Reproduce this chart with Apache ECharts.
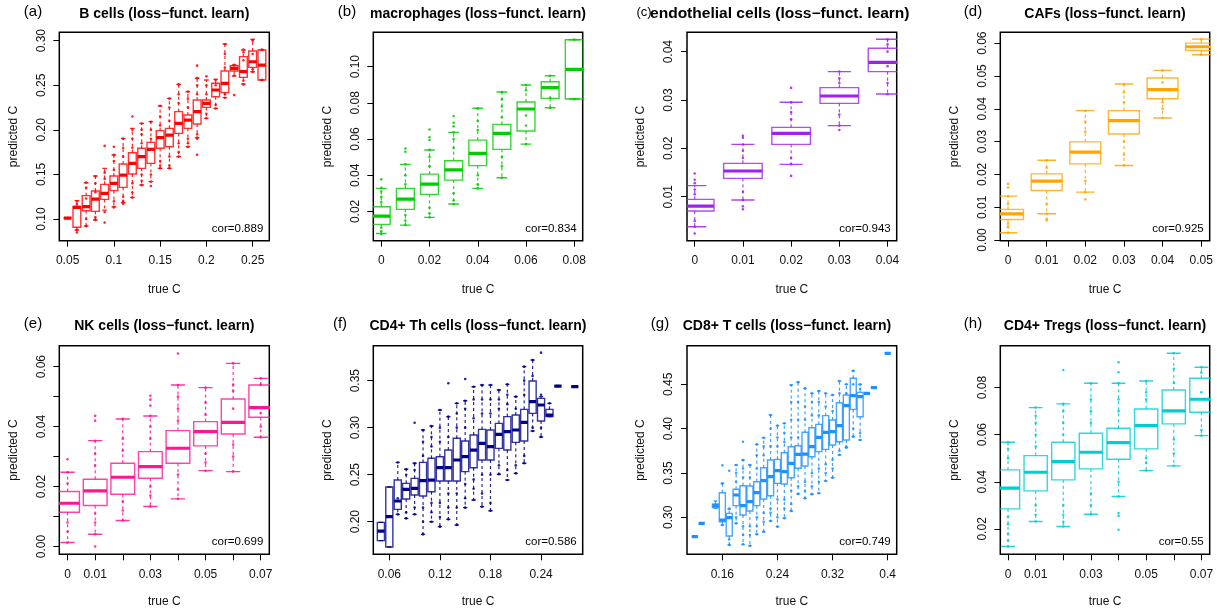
<!DOCTYPE html>
<html><head><meta charset="utf-8">
<script src="https://cdn.jsdelivr.net/npm/echarts@6/dist/echarts.min.js"></script>
<style>html,body{margin:0;padding:0;background:#fff}#c{width:1217px;height:613px}</style>
</head><body><div id="c"></div>
<script>
// ---------- DATA ----------
// stats per box: [lower whisker, q1, median, q3, upper whisker]
const aX = [0.05,0.06,0.07,0.08,0.09,0.10,0.11,0.12,0.13,0.14,0.15,0.16,0.17,0.18,0.19,0.20,0.21,0.22,0.23,0.24,0.25,0.26];
const aStats = [[0.101,0.101,0.101,0.101,0.101],[0.0877,0.0907,0.113,0.114,0.1206],[0.0922,0.1093,0.1138,0.1262,0.1407],[0.0989,0.1086,0.1224,0.1314,0.1482],[0.110,0.122,0.1288,0.1389,0.1568],[0.1138,0.1318,0.140,0.1482,0.1718],[0.1183,0.1355,0.1493,0.1617,0.1905],[0.1243,0.1505,0.1624,0.1744,0.2017],[0.1381,0.1568,0.170,0.1793,0.2073],[0.1419,0.1624,0.178,0.186,0.2092],[0.1568,0.1793,0.1912,0.1991,0.2267],[0.1568,0.1811,0.1942,0.2017,0.2353],[0.1699,0.1961,0.2073,0.2204,0.251],[0.1811,0.2017,0.211,0.2166,0.2428],[0.1912,0.2065,0.2204,0.2335,0.2578],[0.2129,0.2252,0.2297,0.2335,0.2559],[0.2241,0.2372,0.2447,0.2522,0.2566],[0.2361,0.2417,0.2522,0.266,0.2963],[0.2604,0.266,0.269,0.272,0.2727],[0.2514,0.2589,0.2652,0.2821,0.2895],[0.2652,0.2701,0.2764,0.2884,0.3015],[0.2559,0.2559,0.2727,0.2895,0.2895]];
const aPts = [[0.101],[0.085,0.088,0.117,0.12],[0.092,0.1,0.123,0.135,0.141],[0.099,0.102,0.13,0.14,0.148],[0.096,0.108,0.145,0.152,0.182],[0.113,0.12,0.155,0.165,0.172,0.181],[0.117,0.12,0.125,0.17,0.18,0.19],[0.124,0.13,0.14,0.18,0.19,0.2,0.215],[0.138,0.143,0.15,0.185,0.195,0.2,0.207],[0.137,0.142,0.15,0.19,0.2,0.209],[0.157,0.16,0.165,0.205,0.215,0.227],[0.157,0.16,0.17,0.21,0.225,0.235],[0.17,0.175,0.185,0.23,0.24,0.251],[0.181,0.185,0.19,0.225,0.235,0.243],[0.172,0.19,0.195,0.24,0.25,0.258,0.272],[0.213,0.218,0.24,0.25,0.26],[0.224,0.228,0.25,0.256],[0.236,0.24,0.27,0.285,0.296],[0.239,0.261,0.27,0.273],[0.251,0.255,0.278,0.287,0.29],[0.265,0.268,0.285,0.3,0.301],[0.256,0.29]];

const bX = [0,0.01,0.02,0.03,0.04,0.05,0.06,0.07,0.08];
const bStats = [[0.0078,0.0128,0.0174,0.0226,0.0327],[0.0124,0.0211,0.0268,0.0327,0.046],[0.0167,0.0294,0.0351,0.0406,0.0539],[0.0241,0.0373,0.0429,0.048,0.0637],[0.0327,0.0453,0.0521,0.0594,0.077],[0.0386,0.0543,0.0631,0.0681,0.086],[0.0572,0.0644,0.0766,0.0805,0.0899],[0.0773,0.0825,0.0884,0.0917,0.095],[0.0821,0.0821,0.0985,0.1149,0.1149]];
const bPts = [[0.0075,0.009,0.011,0.025,0.028,0.031,0.033,0.0377],[0.0125,0.015,0.018,0.035,0.04,0.046,0.053,0.0548],[0.0167,0.019,0.022,0.045,0.05,0.054,0.0595,0.061,0.0653],[0.0241,0.026,0.03,0.055,0.06,0.0637,0.067,0.069,0.0727],[0.0327,0.035,0.04,0.065,0.07,0.077],[0.0386,0.045,0.05,0.072,0.078,0.082,0.086],[0.0572,0.0675,0.073,0.087,0.0899],[0.0773,0.083,0.095],[0.082,0.115]];

const cX = [0,0.01,0.02,0.03,0.04];
const cStats = [[0.00379,0.00703,0.00807,0.00945,0.01228],[0.00931,0.01379,0.01531,0.0169,0.02083],[0.01669,0.02083,0.0231,0.02434,0.02952],[0.02469,0.02931,0.03083,0.03255,0.03586],[0.03124,0.03586,0.03779,0.04069,0.04255]];
const cPts = [[0.0024,0.0038,0.005,0.0105,0.0115,0.0128,0.0135,0.0148],[0.0074,0.008,0.0093,0.011,0.018,0.0195,0.0208,0.0222,0.0226],[0.0143,0.0167,0.018,0.026,0.0275,0.0295,0.0325],[0.0238,0.0247,0.027,0.0335,0.0345,0.0359],[0.0312,0.0335,0.037,0.04,0.0415,0.0425]];

const dX = [0,0.01,0.02,0.03,0.04,0.05];
const dStats = [[0.00223,0.00628,0.008,0.00933,0.01338],[0.008,0.0151,0.01794,0.02017,0.02432],[0.0146,0.02321,0.02676,0.0299,0.03943],[0.0227,0.03233,0.03638,0.03943,0.04753],[0.0372,0.04307,0.04581,0.04936,0.05169],[0.05645,0.05777,0.05889,0.06,0.06122]];
const dPts = [[0.0022,0.004,0.005,0.011,0.0134,0.016,0.0171],[0.006,0.0065,0.008,0.011,0.022,0.0243],[0.0124,0.0146,0.018,0.033,0.036,0.0394],[0.0227,0.026,0.03,0.042,0.045,0.0475],[0.0372,0.04,0.042,0.048,0.0517],[0.0565,0.0612]];

const eX = [0,0.01,0.02,0.03,0.04,0.05,0.06,0.07];
const eStats = [[0.00133,0.01144,0.01444,0.01833,0.02478],[0.00411,0.01367,0.01856,0.02244,0.03533],[0.00867,0.01744,0.02311,0.02778,0.04256],[0.01333,0.02278,0.02667,0.03167,0.04356],[0.01589,0.02778,0.03278,0.03867,0.05389],[0.02533,0.03356,0.03833,0.04167,0.053],[0.025,0.03756,0.04144,0.04922,0.06111],[0.03644,0.04311,0.04633,0.05389,0.05611]];
const ePts = [[0.0013,0.005,0.008,0.021,0.0248,0.0291],[0.0,0.0041,0.008,0.011,0.027,0.031,0.0353,0.042,0.0436],[0.0087,0.012,0.015,0.032,0.036,0.0426],[0.0133,0.017,0.02,0.036,0.04,0.0436,0.047,0.049,0.0503],[0.0159,0.019,0.024,0.042,0.046,0.05,0.0539,0.0644],[0.0253,0.028,0.031,0.044,0.048,0.053],[0.025,0.03,0.034,0.046,0.052,0.054,0.0611],[0.0364,0.04,0.0445,0.054,0.0561]];

const fX = [0.05,0.06,0.07,0.08,0.09,0.10,0.11,0.12,0.13,0.14,0.15,0.16,0.17,0.18,0.19,0.20,0.21,0.22,0.23,0.24,0.25,0.26,0.28];
const fStats = [[0.1798,0.1798,0.19,0.1993,0.1993],[0.173,0.173,0.2053,0.2369,0.2369],[0.2078,0.2131,0.222,0.2443,0.2631],[0.2035,0.2241,0.2344,0.2408,0.2557],[0.2078,0.2284,0.2355,0.2461,0.2621],[0.1865,0.2273,0.2436,0.2631,0.2975],[0.20,0.2319,0.2443,0.2674,0.3018],[0.1947,0.2433,0.2574,0.2691,0.3188],[0.2025,0.2433,0.2574,0.2762,0.3117],[0.1965,0.2433,0.2656,0.2887,0.3259],[0.2149,0.2532,0.2691,0.2858,0.3287],[0.223,0.2574,0.2762,0.2922,0.3436],[0.216,0.2656,0.2833,0.2982,0.3454],[0.2117,0.2656,0.2798,0.2975,0.3454],[0.2504,0.278,0.2929,0.3046,0.3401],[0.2443,0.2762,0.2957,0.3117,0.3461],[0.2514,0.2844,0.2975,0.3135,0.333],[0.2621,0.2858,0.3057,0.3195,0.3649],[0.2965,0.3152,0.3277,0.3496,0.372],[0.29,0.3071,0.3241,0.3312,0.333],[0.3117,0.3117,0.3135,0.3195,0.3259],[0.3443,0.3443,0.3443,0.3443,0.3443],[0.3436,0.3436,0.3436,0.3436,0.3436]];
const fPts = [[],[],[0.2078,0.225,0.263],[0.2035,0.21,0.25,0.2557],[0.2078,0.215,0.255,0.262,0.3053],[0.1865,0.2,0.215,0.27,0.285,0.2975],[0.2,0.21,0.22,0.28,0.29,0.3018],[0.1947,0.205,0.22,0.285,0.3,0.3188],[0.2025,0.215,0.23,0.29,0.3117,0.3472],[0.1965,0.215,0.23,0.3,0.315,0.3259],[0.2149,0.225,0.24,0.3,0.32,0.3287,0.3518],[0.223,0.235,0.245,0.31,0.33,0.3436],[0.216,0.23,0.25,0.315,0.33,0.3454],[0.2117,0.22,0.25,0.315,0.33,0.3454],[0.2504,0.26,0.32,0.33,0.3401],[0.2443,0.255,0.325,0.335,0.3461],[0.2514,0.26,0.32,0.333],[0.2621,0.27,0.335,0.35,0.3649],[0.2965,0.3,0.355,0.372],[0.29,0.3,0.335,0.3798],[0.3259],[0.3443],[0.3436]];

const gX = [0.12,0.13,0.15,0.16,0.17,0.18,0.19,0.20,0.21,0.22,0.23,0.24,0.25,0.26,0.27,0.28,0.29,0.30,0.31,0.32,0.33,0.34,0.35,0.36,0.37,0.38,0.40];
const gStats = [[0.2782,0.2782,0.2782,0.2782,0.2782],[0.2932,0.2932,0.2932,0.2932,0.2932],[0.3102,0.3109,0.3132,0.315,0.3184],[0.2914,0.2951,0.297,0.3278,0.3383],[0.2688,0.279,0.2996,0.3045,0.3094],[0.2932,0.3132,0.3252,0.3316,0.359],[0.2695,0.3026,0.3132,0.3357,0.3647],[0.268,0.3071,0.3177,0.3353,0.359],[0.2808,0.3132,0.3278,0.3402,0.3823],[0.2838,0.3207,0.3414,0.356,0.3898],[0.2959,0.3244,0.3459,0.3647,0.4154],[0.2895,0.3383,0.3526,0.3654,0.4034],[0.2989,0.3376,0.3515,0.3729,0.406],[0.3071,0.3447,0.3609,0.3797,0.4492],[0.3263,0.3553,0.3711,0.3808,0.4523],[0.3214,0.3579,0.3714,0.3959,0.4455],[0.326,0.3684,0.3797,0.4011,0.4398],[0.3271,0.3741,0.3902,0.4049,0.4425],[0.341,0.3767,0.3959,0.4147,0.4398],[0.3447,0.3816,0.3966,0.4098,0.438],[0.3703,0.3853,0.4034,0.4293,0.4538],[0.3786,0.3872,0.4259,0.438,0.45],[0.391,0.4218,0.4372,0.4568,0.4654],[0.3872,0.4135,0.4361,0.441,0.45],[0.4398,0.4398,0.4398,0.4398,0.4398],[0.4462,0.4462,0.4462,0.4462,0.4462],[0.485,0.485,0.485,0.485,0.485]];
const gPts = [[],[],[],[0.2914,0.3383,0.3587],[0.2688,0.275,0.31,0.3526],[0.2932,0.3,0.34,0.35,0.359],[0.2695,0.28,0.29,0.345,0.355,0.3647,0.3853],[0.268,0.28,0.29,0.345,0.359],[0.2808,0.29,0.3,0.355,0.37,0.3823],[0.2838,0.295,0.305,0.37,0.38,0.3898],[0.2959,0.305,0.31,0.38,0.4,0.4154],[0.2895,0.3,0.32,0.38,0.39,0.4034],[0.2989,0.31,0.32,0.385,0.395,0.406],[0.3071,0.315,0.33,0.39,0.41,0.43,0.4492],[0.3263,0.335,0.39,0.41,0.43,0.4523],[0.3214,0.33,0.34,0.41,0.425,0.4455],[0.326,0.335,0.35,0.415,0.43,0.4398],[0.3271,0.34,0.355,0.415,0.43,0.4425],[0.341,0.35,0.36,0.425,0.4398],[0.3447,0.355,0.365,0.42,0.438],[0.3703,0.375,0.44,0.4538],[0.3786,0.38,0.44,0.45],[0.391,0.4,0.45,0.4654],[0.3872,0.395,0.445,0.45],[],[],[]];

const hX = [0,0.01,0.02,0.03,0.04,0.05,0.06,0.07];
const hStats = [[0.0125,0.02849,0.03727,0.04505,0.05679],[0.02311,0.03613,0.04406,0.05113,0.07151],[0.021,0.0408,0.04858,0.05679,0.07307],[0.02623,0.04547,0.05255,0.06061,0.08184],[0.03373,0.04958,0.05665,0.06274,0.08184],[0.04476,0.05396,0.06387,0.07094,0.08283],[0.04675,0.06458,0.07009,0.07901,0.09458],[0.05962,0.06953,0.07505,0.08396,0.08863]];
const hPts = [[0.0125,0.015,0.018,0.022,0.025,0.05,0.054,0.0568],[0.0231,0.026,0.03,0.055,0.06,0.065,0.068,0.0715],[0.021,0.023,0.026,0.03,0.06,0.065,0.07,0.0731,0.0875],[0.0262,0.03,0.035,0.065,0.07,0.075,0.0818],[0.0196,0.0255,0.0267,0.0337,0.04,0.07,0.075,0.0818,0.0865,0.0908],[0.0448,0.048,0.05,0.075,0.078,0.0828],[0.0468,0.052,0.058,0.082,0.088,0.0946],[0.0596,0.062,0.078,0.0863,0.0886]];

// titles, correlations, tick values
const titles = ['B cells (loss\u2212funct. learn)','macrophages (loss\u2212funct. learn)','endothelial cells (loss\u2212funct. learn)','CAFs (loss\u2212funct. learn)','NK cells (loss\u2212funct. learn)','CD4+ Th cells (loss\u2212funct. learn)','CD8+ T cells (loss\u2212funct. learn)','CD4+ Tregs (loss\u2212funct. learn)'];
const tags = ['(a)','(b)','(c)','(d)','(e)','(f)','(g)','(h)'];
const cors = ['cor=0.889','cor=0.834','cor=0.943','cor=0.925','cor=0.699','cor=0.586','cor=0.749','cor=0.55'];
const xTicks = [[0.05,0.1,0.15,0.2,0.25],[0,0.02,0.04,0.06,0.08],[0,0.01,0.02,0.03,0.04],[0,0.01,0.02,0.03,0.04,0.05],[0,0.01,0.02,0.03,0.04,0.05,0.06,0.07],[0.06,0.12,0.18,0.24],[0.16,0.24,0.32,0.4],[0,0.01,0.02,0.03,0.04,0.05,0.06,0.07]];
const xLabels = [[0.05,0.1,0.15,0.2,0.25],[0,0.02,0.04,0.06,0.08],[0,0.01,0.02,0.03,0.04],[0,0.01,0.02,0.03,0.04,0.05],[0,0.01,0.03,0.05,0.07],[0.06,0.12,0.18,0.24],[0.16,0.24,0.32,0.4],[0,0.01,0.03,0.05,0.07]];
const yTicks = [[0.10,0.15,0.20,0.25,0.30],[0.02,0.04,0.06,0.08,0.10],[0.01,0.02,0.03,0.04],[0,0.01,0.02,0.03,0.04,0.05,0.06],[0,0.01,0.02,0.03,0.04,0.05,0.06],[0.20,0.25,0.30,0.35],[0.30,0.35,0.40,0.45],[0.02,0.04,0.06,0.08]];
const yLabels = [[0.10,0.15,0.20,0.25,0.30],[0.02,0.04,0.06,0.08,0.10],[0.01,0.02,0.03,0.04],[0,0.01,0.02,0.03,0.04,0.05,0.06],[0,0.02,0.04,0.06],[0.20,0.25,0.30,0.35],[0.30,0.35,0.40,0.45],[0.02,0.04,0.06,0.08]];

const panelsData = [[aX,aStats,aPts],[bX,bStats,bPts],[cX,cStats,cPts],[dX,dStats,dPts],[eX,eStats,ePts],[fX,fStats,fPts],[gX,gStats,gPts],[hX,hStats,hPts]];

// ---------- LAYOUT / STYLE ----------
const colors = ['#FF0000','#00CD00','#A020F0','#FFA500','#FF1493','#00008B','#1E90FF','#00CED1'];
const lefts = [59.3,373.3,687,1000.3];
const widths = [210,209.4,209.7,209.4];
const tops = [32.3,345.7];
const heights = [208.4,208.6];
const xRange = [[0.041,0.268],[-0.0033,0.0835],[-0.0016,0.0419],[-0.002,0.0522],[-0.003,0.0731],[0.041,0.2894],[0.1087,0.4131],[-0.0028,0.0730]];
const yRange = [[0.0757,0.3094],[0.0038,0.119],[0.0009,0.044],[-0.0002,0.0633],[-0.0026,0.067],[0.1653,0.3872],[0.2583,0.4936],[0.0092,0.0978]];
const halfW = [0.0042,0.0037,0.004,0.004,0.0043,0.0042,0.0044,0.0042];
const titleX = [164.3,478,650,1105,164.3,478,787,1105];
const titleScaleX = [1,1,1.11,1,1,1,1,1];
const tagX = [33,347,644,973,33,340,660,973];
const FONT = '"Liberation Sans", Arial, Helvetica, sans-serif';

const grids=[], xAxes=[], yAxes=[], series=[], graphics=[];
panelsData.forEach((pd, i) => {
  const row = i < 4 ? 0 : 1, col = i % 4;
  const L = lefts[col], T = tops[row], W = widths[col], H = heights[row];
  const color = colors[i];
  grids.push({left:L, top:T, width:W, height:H, show:true, borderColor:'#000', borderWidth:1.5, backgroundColor:'transparent', containLabel:false});
  const xfmt = v => String(parseFloat((+v).toFixed(4)));
  const yfmt = v => (+v).toFixed(2);
  xAxes.push({type:'value', gridIndex:i, min:xRange[i][0], max:xRange[i][1],
    axisLine:{show:false, onZero:false}, splitLine:{show:false},
    axisTick:{show:true, length:6, lineStyle:{color:'#000', width:1}, customValues:xTicks[i]},
    axisLabel:{show:true, customValues:xLabels[i], formatter:xfmt, fontSize:12, color:'#111', margin:14, fontFamily:FONT},
    name:'true C', nameLocation:'middle', nameGap: row===0 ? 43 : 41,
    nameTextStyle:{fontSize:12, color:'#111', fontFamily:FONT}});
  yAxes.push({type:'value', gridIndex:i, min:yRange[i][0], max:yRange[i][1],
    axisLine:{show:false, onZero:false}, splitLine:{show:false},
    axisTick:{show:true, length:6, lineStyle:{color:'#000', width:1}, customValues:yTicks[i]},
    axisLabel:{show:true, customValues:yLabels[i], formatter:yfmt, rotate:90, fontSize:12, color:'#111', margin:12, fontFamily:FONT},
    name:'predicted C', nameLocation:'middle', nameGap:40,
    nameTextStyle:{fontSize:12, color:'#111', fontFamily:FONT}});
  const [xs, stats, pts] = pd;
  const hw = halfW[i];
  series.push({type:'custom', xAxisIndex:i, yAxisIndex:i, clip:true, silent:true,
    data: xs.map((x, k) => [x].concat(stats[k])),
    encode:{x:0, y:[1,2,3,4,5]},
    renderItem: function(params, api){
      const x = api.value(0), wl = api.value(1), q1 = api.value(2), md = api.value(3), q3 = api.value(4), wh = api.value(5);
      const pTL = api.coord([x-hw, q3]), pBR = api.coord([x+hw, q1]);
      const cx = api.coord([x, md])[0];
      const my = api.coord([x, md])[1];
      const yH = api.coord([x, wh])[1], yL = api.coord([x, wl])[1];
      const sw = (pBR[0]-pTL[0]) * 0.3;
      const boxStyle = {fill:'none', stroke:color, lineWidth:1.4, opacity:0.8};
      const wStyle = {stroke:color, lineWidth:1.2, lineDash:[3,3], opacity:0.85};
      const sStyle = {stroke:color, lineWidth:1.4, opacity:0.85};
      return {type:'group', children:[
        {type:'line', shape:{x1:cx, y1:pTL[1], x2:cx, y2:yH}, style:wStyle},
        {type:'line', shape:{x1:cx, y1:pBR[1], x2:cx, y2:yL}, style:wStyle},
        {type:'line', shape:{x1:cx-sw, y1:yH, x2:cx+sw, y2:yH}, style:sStyle},
        {type:'line', shape:{x1:cx-sw, y1:yL, x2:cx+sw, y2:yL}, style:sStyle},
        {type:'rect', shape:{x:pTL[0], y:pTL[1], width:pBR[0]-pTL[0], height:pBR[1]-pTL[1]}, style:boxStyle},
        {type:'line', shape:{x1:pTL[0], y1:my, x2:pBR[0], y2:my}, style:{stroke:color, lineWidth:3.2}}
      ]};
    }});
  const sdata = [];
  xs.forEach((x, k) => { (pts[k] || []).forEach(v => sdata.push([x, v])); });
  series.push({type:'scatter', xAxisIndex:i, yAxisIndex:i, silent:true, symbol:'circle', symbolSize:2.6,
    itemStyle:{color:color, opacity:0.85}, data:sdata});
  // texts
  const ty = row===0 ? 14 : 326.5;
  const tagy = row===0 ? 12 : 324;
  const tAlign = (i===2) ? 'left' : 'center';
  graphics.push({type:'text', x:titleX[i], y:ty, scaleX:titleScaleX[i], silent:true,
    style:{text:titles[i], font:'bold 14px '+FONT, fill:'#000', align:tAlign, verticalAlign:'middle', textAlign:tAlign, textVerticalAlign:'middle'}});
  graphics.push({type:'text', x:tagX[i], y:tagy, silent:true,
    style:{text:tags[i], font:(i===2?'13px ':'15px ')+FONT, fill:'#000', align:'center', verticalAlign:'middle', textAlign:'center', textVerticalAlign:'middle'}});
  graphics.push({type:'text', x:L+W-6, y:T+H-12, silent:true,
    style:{text:cors[i], font:'11.5px '+FONT, fill:'#000', align:'right', verticalAlign:'middle', textAlign:'right', textVerticalAlign:'middle'}});
});

const chart = echarts.init(document.getElementById('c'), null, {renderer:'canvas'});
chart.setOption({animation:false, backgroundColor:'#fff', grid:grids, xAxis:xAxes, yAxis:yAxes, series:series, graphic:{elements:graphics}});
</script></body></html>
